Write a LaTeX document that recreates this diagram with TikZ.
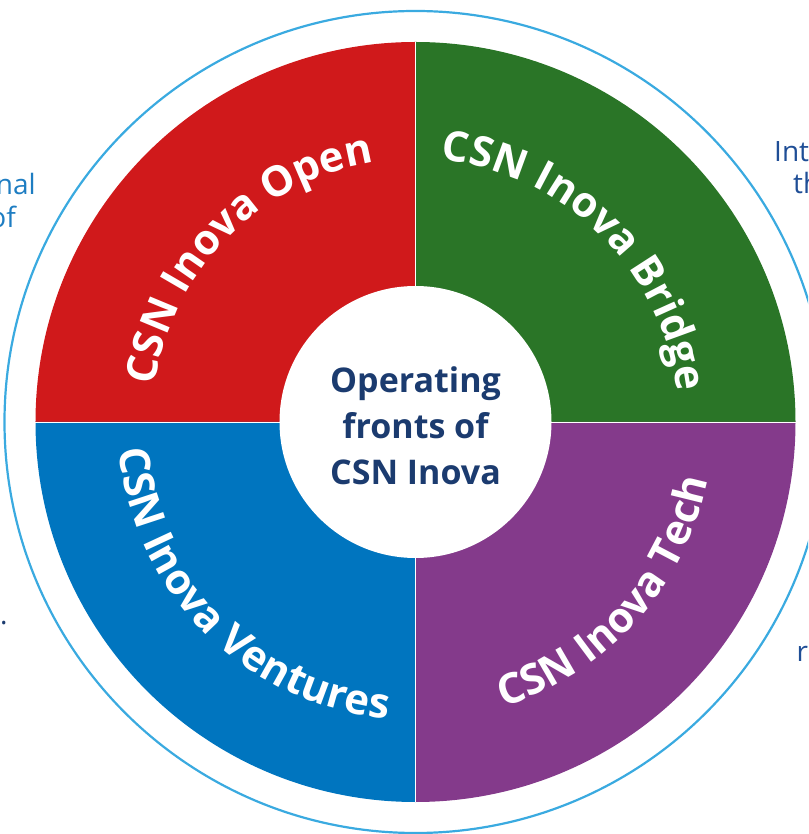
\documentclass[tikz,border=0pt]{standalone}
\usepackage{fontspec}
\setmainfont{Open Sans}
\usetikzlibrary{decorations.text}
\definecolor{cred}{HTML}{D0191B}
\definecolor{cgreen}{HTML}{2A7527}
\definecolor{cblue}{HTML}{0075BF}
\definecolor{cpurple}{HTML}{843A8B}
\definecolor{cring}{HTML}{3AAAE0}
\definecolor{cnavy}{HTML}{1B3B6F}
\definecolor{cmid}{HTML}{1E7DC2}
\definecolor{cdark}{HTML}{1F4E96}
\newcommand{\labfont}{\fontsize{42}{50}\selectfont\bfseries}
\tikzset{
  sector/.style={draw=white, line width=0.5pt},
  arclabel/.style={decorate, decoration={text along path, text align=center, text color=white}},
  sidetext/.style={inner sep=0pt, font=\fontsize{28}{33}\selectfont}
}
\begin{document}
\begin{tikzpicture}[x=1pt,y=1pt]
\useasboundingbox (-415.5,-412) rectangle (392.5,422);
\clip (-415.5,-412) rectangle (392.5,422);
% outer ring
\draw[cring, line width=2.2pt] (0,0) circle[radius=411];
% sectors
\fill[cred]    (0,0) -- (180:380) arc[start angle=180, end angle=90,  radius=380] -- cycle;
\fill[cgreen]  (0,0) -- (90:380)  arc[start angle=90,  end angle=0,   radius=380] -- cycle;
\fill[cblue]   (0,0) -- (180:380) arc[start angle=180, end angle=270, radius=380] -- cycle;
\fill[cpurple] (0,0) -- (270:380) arc[start angle=270, end angle=360, radius=380] -- cycle;
\draw[sector] (0,380) -- (0,-380);
\draw[sector] (-380,0) -- (380,0);
% centre
\fill[white] (0,0) circle[radius=136];
\node[align=center, text=cnavy, font=\fontsize{34}{46}\selectfont\bfseries] (centre) at (0,-4)
  {Operating\\fronts of\\CSN Inova};
% arc labels
\path[arclabel, decoration={text={|\labfont|CSN Inova Open}}]
  (181:263) arc[start angle=181, end angle=90, radius=263];
\path[arclabel, decoration={text={|\labfont|CSN Inova Bridge}}]
  (91:263) arc[start angle=91, end angle=0, radius=263];
\path[arclabel, decoration={text={|\labfont|CSN Inova Ventures}}]
  (178:298) arc[start angle=178, end angle=272, radius=298];
\path[arclabel, decoration={text={|\labfont|CSN Inova Tech}}]
  (272:298) arc[start angle=272, end angle=364, radius=298];
% partial side texts
\node[sidetext, text=cmid, anchor=base east] (l1) at (-379.5,227) {nal};
\node[sidetext, text=cmid, anchor=base east] (l2) at (-399.5,194) {of};
\node[sidetext, text=cnavy, anchor=base west] (l3) at (-415.5,-202) {.};
\node[sidetext, text=cdark, anchor=base west] (r1) at (358.5,260) {Int};
\node[sidetext, text=cdark, anchor=base west] (r2) at (377.5,228) {th};
\node[sidetext, text=cdark, anchor=base west] (r3) at (381,-239) {r};
\end{tikzpicture}
\end{document}
